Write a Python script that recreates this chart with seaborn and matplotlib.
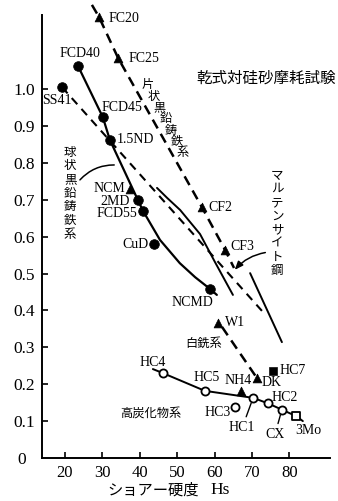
import matplotlib
matplotlib.use("Agg")
import matplotlib.pyplot as plt
import seaborn as sns

# ---- Shore hardness (Hs) vs. relative wear, dry silica-sand abrasion ----
# spheroidal graphite cast irons (filled circles)
sg_names = ["FCD40", "FCD45", "1.5ND", "2MD", "FCD55", "CuD", "NCMD"]
sg_hs = [23.5, 30.1, 32.0, 39.5, 40.9, 43.8, 58.8]
sg_wear = [1.062, 0.924, 0.862, 0.699, 0.669, 0.580, 0.458]

# rolled steel
steel_names = ["SS41"]
steel_hs = [19.2]
steel_wear = [1.005]

# flake graphite / white irons and others (filled triangles)
tri_names = ["FC20", "FC25", "NCM", "CF2", "CF3", "W1", "NH4", "DK"]
tri_hs = [29.1, 34.2, 37.4, 56.6, 62.8, 60.9, 67.1, 71.3]
tri_wear = [1.195, 1.084, 0.729, 0.680, 0.564, 0.366, 0.182, 0.217]

# high-carbide irons (open circles)
hc_names = ["HC4", "HC5", "HC3", "HC1", "HC2", "CX"]
hc_hs = [46.2, 57.4, 65.5, 70.3, 74.3, 78.0]
hc_wear = [0.230, 0.182, 0.138, 0.163, 0.148, 0.131]

# open square / filled square
open_sq_names = ["3Mo"]
open_sq_hs = [81.9]
open_sq_wear = [0.113]
fill_sq_names = ["HC7"]
fill_sq_hs = [75.6]
fill_sq_wear = [0.236]

# trend curves
sg_curve_hs = [23.5, 30.1, 32.0, 39.5, 40.9, 45.4, 50.7, 54.8, 58.8, 60.6]
sg_curve_wear = [1.062, 0.924, 0.862, 0.699, 0.669, 0.591, 0.528, 0.490, 0.458, 0.442]
flake_curve_hs = [27.2, 29.1, 34.2, 56.6, 62.8, 65.2]
flake_curve_wear = [1.228, 1.195, 1.084, 0.680, 0.564, 0.515]
steel_curve_hs = [19.2, 72.9]
steel_curve_wear = [1.005, 0.396]
mart_a_hs = [44.6, 47.3, 50.8, 56.1, 60.1, 64.9]
mart_a_wear = [0.732, 0.705, 0.672, 0.607, 0.531, 0.442]
mart_b_hs = [69.5, 78.0]
mart_b_wear = [0.501, 0.314]
white_curve_hs = [62.0, 71.3]
white_curve_wear = [0.355, 0.217]
hc_curve_hs = [43.5, 46.2, 57.4, 70.3, 74.3, 78.0, 81.9, 83.6]
hc_curve_wear = [0.241, 0.230, 0.182, 0.163, 0.148, 0.131, 0.113, 0.100]

x_ticks = [20, 30, 40, 50, 60, 70, 80]
y_ticks = [0.1, 0.2, 0.3, 0.4, 0.5, 0.6, 0.7, 0.8, 0.9, 1.0]

sns.set_style("ticks")
plt.rcParams["font.family"] = ["Liberation Serif", "Noto Sans CJK JP"]
CJK = ["Noto Sans CJK JP", "DejaVu Sans"]
SERIF = "Liberation Serif"

fig = plt.figure(figsize=(3.38, 5.01), dpi=100)
ax = fig.add_axes([42 / 338, 43 / 501, 288 / 338, 454 / 501])
ax.set_xlim(13.85, 90.86)
ax.set_ylim(0, 1.2304)

k = "black"


def curve(xs, ys, lw=1.5, ls="-"):
    sns.lineplot(x=xs, y=ys, ax=ax, color=k, lw=lw, linestyle=ls,
                 sort=False, estimator=None, clip_on=False)


curve(sg_curve_hs, sg_curve_wear, lw=1.6)
curve(flake_curve_hs, flake_curve_wear, lw=1.8, ls=(0, (4, 2.5)))
curve(steel_curve_hs, steel_curve_wear, lw=1.5, ls=(0, (4, 3)))
curve(mart_a_hs, mart_a_wear, lw=1.4)
curve(mart_b_hs, mart_b_wear, lw=1.4)
curve(white_curve_hs, white_curve_wear, lw=1.8, ls=(0, (4, 2.5)))
curve(hc_curve_hs, hc_curve_wear, lw=1.4)

# markers
sns.scatterplot(x=sg_hs, y=sg_wear, ax=ax, marker="o", s=48, color=k,
                edgecolor=k, zorder=5, clip_on=False)
sns.scatterplot(x=steel_hs, y=steel_wear, ax=ax, marker="o", s=48, color=k,
                edgecolor=k, zorder=5, clip_on=False)
sns.scatterplot(x=tri_hs, y=tri_wear, ax=ax, marker="^", s=40, color=k,
                edgecolor=k, zorder=5, clip_on=False)
sns.scatterplot(x=hc_hs, y=hc_wear, ax=ax, marker="o", s=34, color="white",
                edgecolor=k, linewidth=1.3, zorder=5, clip_on=False)
sns.scatterplot(x=open_sq_hs, y=open_sq_wear, ax=ax, marker="s", s=30,
                color="white", edgecolor=k, linewidth=1.3, zorder=5)
sns.scatterplot(x=fill_sq_hs, y=fill_sq_wear, ax=ax, marker="s", s=32,
                color=k, edgecolor=k, zorder=5)

# point labels: offset in pixels and horizontal alignment
label_style = {
    "FC20": (9, -1, "left"), "FC25": (10, 0, "left"),
    "FCD40": (2, 13, "center"), "SS41": (-5, -13, "center"),
    "FCD45": (19, 10, "center"), "1.5ND": (7, 0, "left"),
    "NCM": (-5, 1, "right"), "2MD": (-8, -1, "right"),
    "FCD55": (-6, -2, "right"), "CuD": (-6, -1, "right"),
    "CF2": (6, 0, "left"), "CF3": (5, 3, "left"),
    "NCMD": (-18, -13, "center"), "W1": (7, 0, "left"),
    "HC7": (7, 0, "left"), "DK": (5, -5, "left"),
    "NH4": (-3, 10, "center"), "HC5": (2, 13, "center"),
    "HC4": (-10, 11, "center"), "HC3": (-18, -5, "center"),
    "HC1": (-11, -30, "center"), "HC2": (17, 6, "center"),
    "CX": (-7, -25, "center"), "3Mo": (12, -14, "center"),
}
leaders = {"HC1", "CX"}

groups = [(sg_names, sg_hs, sg_wear), (steel_names, steel_hs, steel_wear),
          (tri_names, tri_hs, tri_wear), (hc_names, hc_hs, hc_wear),
          (open_sq_names, open_sq_hs, open_sq_wear),
          (fill_sq_names, fill_sq_hs, fill_sq_wear)]
for names, xs, ys in groups:
    for n, x, y in zip(names, xs, ys):
        dx, dy, ha = label_style[n]
        kw = {}
        if n in leaders:
            kw["arrowprops"] = dict(arrowstyle="-", lw=1.0, color=k,
                                    shrinkA=1, shrinkB=4)
        ax.annotate(n, (x, y), xytext=(dx, dy), textcoords="offset pixels",
                    ha=ha, va="center", fontsize=10, family=SERIF, color=k,
                    **kw)

# group captions
ax.text(73.7, 1.03, "乾式対硅砂摩耗試験", fontsize=11.2, family=CJK,
        ha="center", va="center", color=k, clip_on=False)
ax.text(43, 0.121, "高炭化物系", fontsize=8.8, family=CJK, ha="center",
        va="center", color=k)
ax.text(57.1, 0.311, "白銑系", fontsize=8.8, family=CJK, ha="center",
        va="center", color=k)


def column(text, x0, y0, x1, y1, size):
    n = len(text)
    for i, ch in enumerate(text):
        t = i / (n - 1)
        ax.text(x0 + (x1 - x0) * t, y0 + (y1 - y0) * t, ch, fontsize=size,
                family=CJK, ha="center", va="center", color=k)


column("球状黒鉛鋳鉄系", 21.4, 0.829, 21.4, 0.607, 9.0)
column("片状黒鉛鋳鉄系", 42.2, 1.011, 51.5, 0.827, 8.8)
column("マルテンサイト鋼", 76.7, 0.767, 76.7, 0.507, 9.0)

ax.annotate("", xy=(33.9, 0.794), xytext=(23.5, 0.748),
            arrowprops=dict(arrowstyle="-", lw=1.1, color=k,
                            connectionstyle="arc3,rad=-0.25"))
ax.annotate("", xy=(64.9, 0.504), xytext=(74.3, 0.558),
            arrowprops=dict(arrowstyle="-|>,head_length=0.5,head_width=0.2",
                            lw=1.1, color=k,
                            connectionstyle="arc3,rad=0.2"))

# axes
sns.despine(ax=ax)
ax.spines["left"].set_bounds(0, 1.2)
for s in ("left", "bottom"):
    ax.spines[s].set_linewidth(1.4)
    ax.spines[s].set_color(k)
ax.set_xticks(x_ticks)
ax.set_xticklabels([str(v) for v in x_ticks], family=SERIF, fontsize=12)
ax.set_yticks(y_ticks)
ax.set_yticklabels([f"{v:.1f}" for v in y_ticks], family=SERIF, fontsize=12.5)
ax.tick_params(direction="in", length=4.5, width=1.2, colors=k, pad=5)
ax.set_xlabel("")
ax.set_ylabel("")
fig.text(22 / 338, 1 - 460 / 501, "0", family=SERIF, fontsize=12.5,
         ha="center", va="center", color=k)
fig.text(107 / 338, 1 - 490 / 501, "ショアー硬度", family=CJK, fontsize=11,
         ha="left", va="center", color=k)
fig.text(210 / 338, 1 - 490 / 501, "Hs", family=SERIF, fontsize=12.5,
         ha="left", va="center", color=k)

fig.savefig("out.png", dpi=100, facecolor="white")
